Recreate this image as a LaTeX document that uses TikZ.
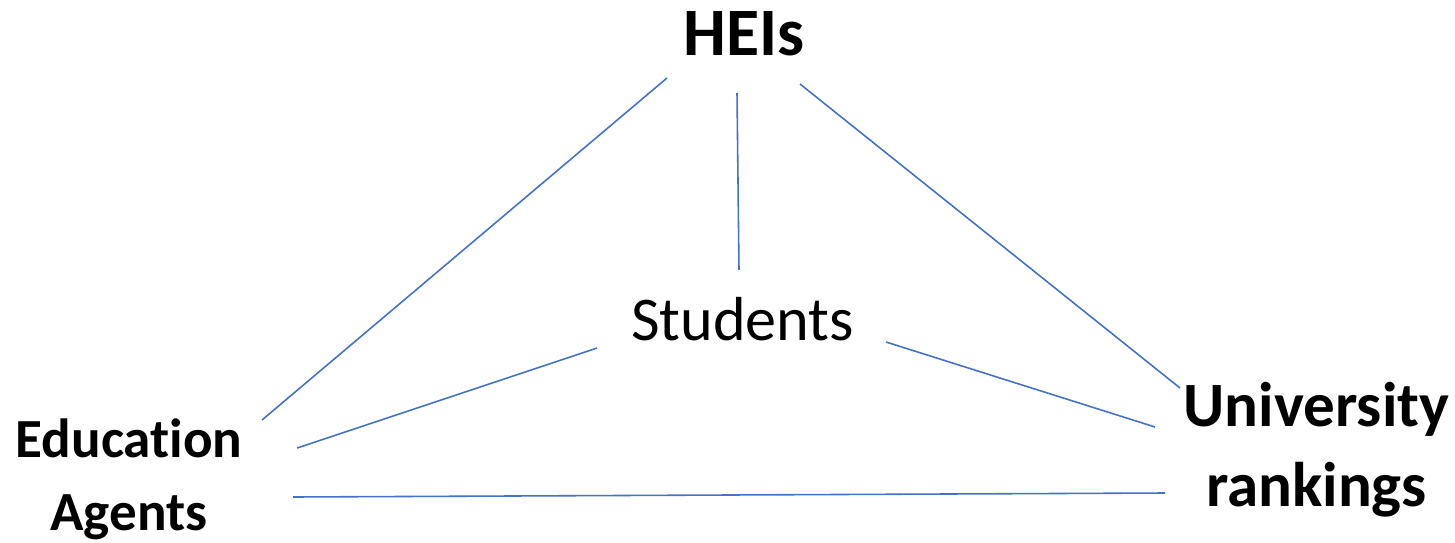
\documentclass[tikz,border=0pt]{standalone}
\usepackage{fontspec}
\setmainfont{Carlito}[Ligatures=NoCommon]
\usepackage{tikz}
\definecolor{LinkBlue}{HTML}{4472C4}
\tikzset{
  % Text styles
  actorbox/.style={inner sep=0pt, font=\bfseries, align=center, anchor=base},
  centerbox/.style={inner sep=0pt, anchor=base},
  % Line style
  link/.style={draw=LinkBlue, line width=0.9pt}
}
\begin{document}
\begin{tikzpicture}
  \useasboundingbox (0,0) rectangle (29.1,10.84);

  \node[actorbox, font=\bfseries\fontsize{38.6}{46}\selectfont] (hei) at (14.88,9.74) {HEIs};
  \node[centerbox, font=\fontsize{35.4}{42}\selectfont] (students) at (14.85,4.04) {Students};
  \node[actorbox, font=\bfseries\fontsize{31.4}{41.4}\selectfont] (agents) at (2.58,0.24) {Education\\Agents};
  \node[actorbox, font=\bfseries\fontsize{35.9}{45.4}\selectfont] (rankings) at (26.33,0.72) {University\\rankings};

  \draw[link] ([shift={(-1.54,-0.46)}]hei.base) -- ([shift={(2.66,2.20)}]agents.base);
  \draw[link] ([shift={(-0.14,-0.76)}]hei.base) -- ([shift={(-0.07,1.40)}]students.base);
  \draw[link] ([shift={(1.12,-0.58)}]hei.base) -- ([shift={(-2.73,2.36)}]rankings.base);
  \draw[link] ([shift={(-2.91,-0.16)}]students.base) -- ([shift={(3.36,1.64)}]agents.base);
  \draw[link] ([shift={(2.87,-0.04)}]students.base) -- ([shift={(-3.23,1.58)}]rankings.base);
  \draw[link] ([shift={(3.28,0.66)}]agents.base) -- ([shift={(-3.03,0.26)}]rankings.base);
\end{tikzpicture}
\end{document}
